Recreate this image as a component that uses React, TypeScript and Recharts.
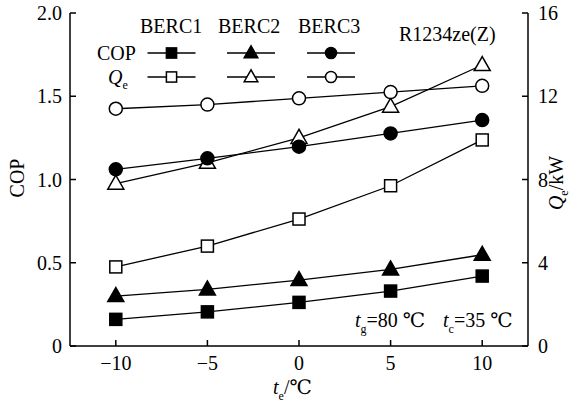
import React from 'react';
import { LineChart, Line, XAxis, YAxis } from 'recharts';

// evaporating temperature te (°C)
const TE = [-10, -5, 0, 5, 10];

// COP (left axis)
const COP_BERC1 = [0.16, 0.205, 0.262, 0.33, 0.42];
const COP_BERC2 = [0.3, 0.34, 0.396, 0.46, 0.548];
const COP_BERC3 = [1.061, 1.127, 1.197, 1.277, 1.357];

// Qe in kW (right axis)
const QE_BERC1 = [3.8, 4.8, 6.1, 7.7, 9.9];
const QE_BERC2 = [7.8, 8.8, 10.0, 11.5, 13.5];
const QE_BERC3 = [11.4, 11.6, 11.9, 12.2, 12.5];

const TE_TICKS = [-10, -5, 0, 5, 10];
const COP_TICKS = [0, 0.5, 1.0, 1.5, 2.0];
const QE_TICKS = [0, 4, 8, 12, 16];

const W = 582;
const H = 407;
const LEFT = 70;
const RIGHT = 528;
const TOP = 13;
const BOTTOM = 346;
const FONT = "'Liberation Serif', Tinos, 'DejaVu Serif', serif";

const data = TE.map((t, i) => ({
  te: t,
  cop1: COP_BERC1[i],
  cop2: COP_BERC2[i],
  cop3: COP_BERC3[i],
  qe1: QE_BERC1[i],
  qe2: QE_BERC2[i],
  qe3: QE_BERC3[i],
}));

type Shape = 'square' | 'triangle' | 'circle';

function Marker({ cx, cy, shape, filled, s = 1 }: { cx: number; cy: number; shape: Shape; filled: boolean; s?: number }) {
  const fill = filled ? '#000' : '#fff';
  if (shape === 'square') {
    const h = 6 * s;
    return <rect x={cx - h} y={cy - h} width={2 * h} height={2 * h} fill={fill} stroke="#000" strokeWidth={1.5} />;
  }
  if (shape === 'triangle') {
    return (
      <polygon
        points={`${cx},${cy - 8.5 * s} ${cx - 8 * s},${cy + 5.5 * s} ${cx + 8 * s},${cy + 5.5 * s}`}
        fill={fill}
        stroke="#000"
        strokeWidth={1.5}
      />
    );
  }
  return <circle cx={cx} cy={cy} r={6.5 * s} fill={fill} stroke="#000" strokeWidth={1.5} />;
}

const makeDot = (name: string, shape: Shape, filled: boolean) => (p: any) => {
  if (p.cx == null || p.cy == null) return <g key={`${name}-${p.index}`} />;
  return (
    <g key={`${name}-${p.index}`}>
      <Marker cx={p.cx} cy={p.cy} shape={shape} filled={filled} />
    </g>
  );
};

const fmtTe = (v: number) => (v < 0 ? `\u2212${Math.abs(v)}` : `${v}`);
const fmtCop = (v: number) => (v === 0 ? '0' : v.toFixed(1));

const txtStyle: React.CSSProperties = { fontFamily: FONT, fontSize: 20 };

function XTick(props: any) {
  const { x, payload } = props;
  return (
    <g>
      <line x1={x} x2={x} y1={BOTTOM} y2={BOTTOM - 6} stroke="#000" strokeWidth={1.5} />
      <text x={x} y={BOTTOM + 24} textAnchor="middle" style={txtStyle} fill="#000">
        {fmtTe(payload.value)}
      </text>
    </g>
  );
}

function LeftTick(props: any) {
  const { y, payload } = props;
  return (
    <g>
      <line x1={LEFT} x2={LEFT + 6} y1={y} y2={y} stroke="#000" strokeWidth={1.5} />
      <text x={LEFT - 8} y={y + 7} textAnchor="end" style={txtStyle} fill="#000">
        {fmtCop(payload.value)}
      </text>
    </g>
  );
}

function RightTick(props: any) {
  const { y, payload } = props;
  return (
    <g>
      <line x1={RIGHT} x2={RIGHT - 6} y1={y} y2={y} stroke="#000" strokeWidth={1.5} />
      <text x={RIGHT + 10} y={y + 7} textAnchor="start" style={txtStyle} fill="#000">
        {payload.value}
      </text>
    </g>
  );
}

// legend rows: marker column centres
const LEG_X = [171.5, 251, 331];
const LEG_ROW_COP = 53;
const LEG_ROW_QE = 77;
const LEG_SHAPES: Shape[] = ['square', 'triangle', 'circle'];

function Overlay() {
  const txt = { style: txtStyle, fill: '#000' } as const;
  const sub = { fontSize: 12 };
  return (
    <svg width={W} height={H} style={{ position: 'absolute', left: 0, top: 0, pointerEvents: 'none' }}>
      {/* series names */}
      <text x={140} y={33} {...txt}>BERC1</text>
      <text x={218} y={33} {...txt}>BERC2</text>
      <text x={298} y={33} {...txt}>BERC3</text>
      <text x={399} y={41} {...txt}>R1234ze(Z)</text>

      {/* row labels */}
      <text x={97} y={60} {...txt}>COP</text>
      <text x={108} y={84} {...txt}>
        <tspan fontStyle="italic">Q</tspan>
        <tspan style={sub} dy={5}>e</tspan>
      </text>

      {LEG_X.map((cx, i) => (
        <g key={`leg-${i}`}>
          <line x1={cx - 24} x2={cx + 24} y1={LEG_ROW_COP} y2={LEG_ROW_COP} stroke="#000" strokeWidth={1.5} />
          <Marker cx={cx} cy={LEG_ROW_COP} shape={LEG_SHAPES[i]} filled s={0.85} />
          <line x1={cx - 24} x2={cx + 24} y1={LEG_ROW_QE} y2={LEG_ROW_QE} stroke="#000" strokeWidth={1.5} />
          <Marker cx={cx} cy={LEG_ROW_QE} shape={LEG_SHAPES[i]} filled={false} s={0.85} />
        </g>
      ))}

      {/* operating conditions */}
      <text x={355} y={327} {...txt}>
        <tspan fontStyle="italic">t</tspan>
        <tspan style={sub} dy={6}>g</tspan>
        <tspan dy={-6}>=80 ℃</tspan>
      </text>
      <text x={443} y={327} {...txt}>
        <tspan fontStyle="italic">t</tspan>
        <tspan style={sub} dy={6}>c</tspan>
        <tspan dy={-6}>=35 ℃</tspan>
      </text>

      {/* axis titles */}
      <text x={273} y={394} {...txt}>
        <tspan fontStyle="italic">t</tspan>
        <tspan style={sub} dy={6}>e</tspan>
        <tspan dy={-6}>/℃</tspan>
      </text>
      <text x={24} y={178} textAnchor="middle" transform="rotate(-90 24 178)" {...txt}>COP</text>
      <text x={563} y={183} textAnchor="middle" transform="rotate(-90 563 183)" {...txt}>
        <tspan fontStyle="italic">Q</tspan>
        <tspan style={sub} dy={5}>e</tspan>
        <tspan dy={-5}>/kW</tspan>
      </text>
    </svg>
  );
}

export default function App() {
  return (
    <div style={{ position: 'absolute', left: 0, top: 0, width: W, height: H, background: '#fff' }}>
      <LineChart width={W} height={H} data={data} margin={{ top: TOP, right: 0, bottom: 0, left: 0 }}>
        <XAxis
          dataKey="te"
          type="number"
          domain={[-12.5, 12.5]}
          ticks={TE_TICKS}
          height={H - BOTTOM}
          axisLine={{ stroke: '#000', strokeWidth: 1.5 }}
          tickLine={false}
          tick={<XTick />}
          allowDataOverflow
        />
        <YAxis
          yAxisId="cop"
          orientation="left"
          domain={[0, 2]}
          ticks={COP_TICKS}
          width={LEFT}
          axisLine={{ stroke: '#000', strokeWidth: 1.5 }}
          tickLine={false}
          tick={<LeftTick />}
          allowDataOverflow
        />
        <YAxis
          yAxisId="qe"
          orientation="right"
          domain={[0, 16]}
          ticks={QE_TICKS}
          width={W - RIGHT}
          axisLine={{ stroke: '#000', strokeWidth: 1.5 }}
          tickLine={false}
          tick={<RightTick />}
          allowDataOverflow
        />
        <Line yAxisId="qe" dataKey="qe1" stroke="#000" strokeWidth={1.3} isAnimationActive={false} dot={makeDot('qe1', 'square', false)} />
        <Line yAxisId="qe" dataKey="qe2" stroke="#000" strokeWidth={1.3} isAnimationActive={false} dot={makeDot('qe2', 'triangle', false)} />
        <Line yAxisId="qe" dataKey="qe3" stroke="#000" strokeWidth={1.3} isAnimationActive={false} dot={makeDot('qe3', 'circle', false)} />
        <Line yAxisId="cop" dataKey="cop1" stroke="#000" strokeWidth={1.3} isAnimationActive={false} dot={makeDot('cop1', 'square', true)} />
        <Line yAxisId="cop" dataKey="cop2" stroke="#000" strokeWidth={1.3} isAnimationActive={false} dot={makeDot('cop2', 'triangle', true)} />
        <Line yAxisId="cop" dataKey="cop3" stroke="#000" strokeWidth={1.3} isAnimationActive={false} dot={makeDot('cop3', 'circle', true)} />
      </LineChart>
      <Overlay />
    </div>
  );
}
